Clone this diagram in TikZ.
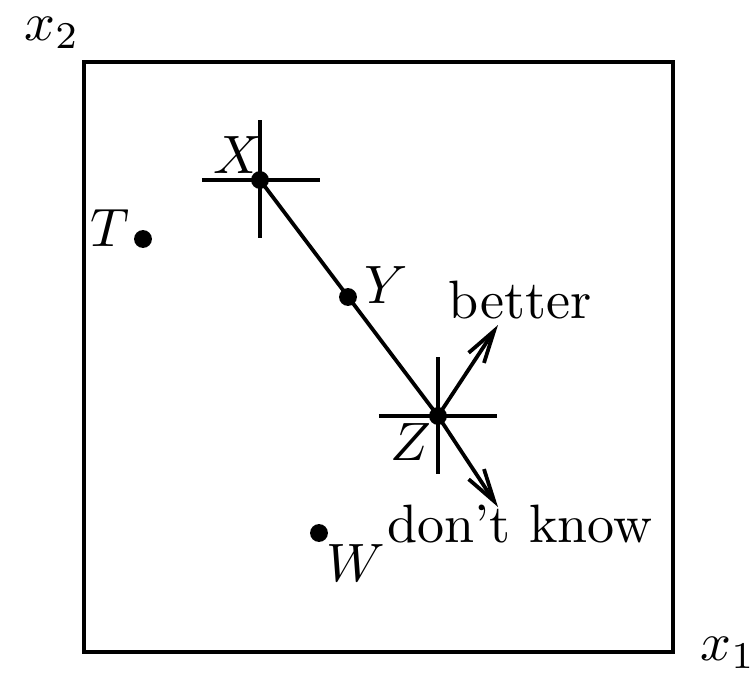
\documentclass[tikz,border=0pt]{standalone}
\usetikzlibrary{arrows.meta}
\begin{document}
\begin{tikzpicture}[x=0.185pt,y=-0.185pt,line width=0.7pt,
  pt/.style={circle,fill=black,inner sep=0pt,minimum size=3.3pt},
  lbl/.style={inner sep=0pt},
  arr/.style={-{Straight Barb[length=6pt,width=3.4pt]}}]
\useasboundingbox (0,0) rectangle (756,675);
\draw (84,62) rectangle (673,652);
\node[lbl] (x2) at (52,33) {$x_2$};
\node[lbl] (x1) at (728,653) {$x_1$};
\node[pt] (X) at (260,180) {};
\node[pt] (T) at (143,239) {};
\node[pt] (Y) at (348,297) {};
\node[pt] (Z) at (438,416) {};
\node[pt] (W) at (319,533) {};
\node[lbl] (Xl) at (238,155) {$X$};
\node[lbl] (Tl) at (110,228) {$T$};
\node[lbl] (Yl) at (386,285) {$Y$};
\node[lbl] (Zl) at (411,442) {$Z$};
\node[lbl] (Wl) at (356,563) {$W$};
\coordinate (Xa) at (202,180); \coordinate (Xb) at (320,180);
\coordinate (Xc) at (260,120); \coordinate (Xd) at (260,238);
\coordinate (Za) at (379,416); \coordinate (Zb) at (497,416);
\coordinate (Zc) at (438,357); \coordinate (Zd) at (438,474);
\draw (Xa) -- (Xb); \draw (Xc) -- (Xd);
\draw (Za) -- (Zb); \draw (Zc) -- (Zd);
\draw (X.center) -- (Z.center);
\coordinate (B) at (498,325);
\coordinate (D) at (498,507);
\draw[arr] (Z.center) -- (B);
\draw[arr] (Z.center) -- (D);
\node[lbl,anchor=base] (better) at (520,318) {better};
\node[lbl,anchor=base] (dk) at (520,542) {don't know};
\end{tikzpicture}
\end{document}
